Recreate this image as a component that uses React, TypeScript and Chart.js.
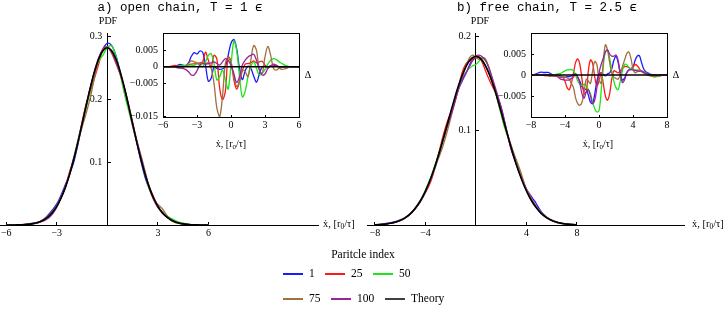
import React, { useEffect, useRef } from "react";
import { Chart, registerables } from "chart.js";

Chart.register(...registerables);

const SERIF = '"Liberation Serif", "Times New Roman", Times, serif';
const MONO = '"Liberation Mono", "Courier New", monospace';

// ---------------- Data ----------------
const particleLabels = ["1", "25", "50", "75", "100"];
const theoryLabel = "Theory";

// Panel a: open chain, T = 1
const xGridA = [
  -6, -5.75, -5.5, -5.25, -5, -4.75, -4.5, -4.25,
  -4, -3.75, -3.5, -3.25, -3, -2.75, -2.5, -2.25,
  -2, -1.75, -1.5, -1.25, -1, -0.75, -0.5, -0.25,
  0, 0.25, 0.5, 0.75, 1, 1.25, 1.5, 1.75,
  2, 2.25, 2.5, 2.75, 3, 3.25, 3.5, 3.75,
  4, 4.25, 4.5, 4.75, 5, 5.25, 5.5, 5.75,
  6,
];
const theoryA = [
  0.0000, 0.0001, 0.0001, 0.0003, 0.0005, 0.0010, 0.0018, 0.0031,
  0.0052, 0.0084, 0.0132, 0.0201, 0.0297, 0.0426, 0.0591, 0.0796,
  0.1038, 0.1312, 0.1607, 0.1909, 0.2197, 0.2451, 0.2650, 0.2777,
  0.2821, 0.2777, 0.2650, 0.2451, 0.2197, 0.1909, 0.1607, 0.1312,
  0.1038, 0.0796, 0.0591, 0.0426, 0.0297, 0.0201, 0.0132, 0.0084,
  0.0052, 0.0031, 0.0018, 0.0010, 0.0005, 0.0003, 0.0001, 0.0001,
  0.0000,
];
const deltaA1 = [
  0, 0, 0, 0, 0.0001, 0.0004, 0.0007, 0.0005,
  0.0004, 0.0012, 0.0032, 0.0043, 0.0039, 0.0048, 0.0044, 0.0005,
  -0.0044, -0.0035, 0.0000, -0.0005, -0.0008, -0.0006, 0.0000, 0.0035,
  0.0072, 0.0083, 0.0055, -0.0005, -0.0039, -0.0012, 0.0002, -0.0005,
  -0.0028, -0.0047, -0.0022, 0.0000, 0.0002, 0.0000, 0.0003, 0.0004,
  0.0002, 0, 0, 0, 0, 0, 0, 0,
  0,
];
const deltaA25 = [
  0, 0, 0, 0.0002, 0.0004, 0.0003, 0.0001, 0.0002,
  0.0003, 0.0006, 0.0008, 0.0009, 0.0010, 0.0012, 0.0015, 0.0045,
  0.0020, 0.0000, 0.0035, 0.0024, -0.0065, -0.0100, -0.0075, 0.0030,
  0.0017, -0.0039, -0.0068, -0.0045, -0.0012, 0.0008, 0.0010, 0.0012,
  0.0018, 0.0012, 0.0015, 0.0017, 0.0005, -0.0005, 0.0003, 0.0003,
  0.0002, 0, 0, 0, 0, 0, 0, 0,
  0,
];
const deltaA50 = [
  0, 0, 0, 0, 0, 0.0001, 0.0003, 0.0004,
  0.0004, 0.0005, 0.0005, 0.0004, 0.0010, 0.0005, 0.0000, 0.0015,
  0.0035, 0.0040, 0.0010, -0.0040, -0.0030, -0.0010, -0.0040, -0.0068,
  0.0005, 0.0078, 0.0050, -0.0030, -0.0092, -0.0075, -0.0030, 0.0000,
  0.0015, -0.0005, -0.0025, -0.0020, -0.0008, 0.0008, 0.0020, 0.0025,
  0.0022, 0.0015, 0.0010, 0.0005, 0.0002, 0, 0, 0,
  0,
];
const deltaA75 = [
  0, 0, 0, 0, 0, -0.0003, -0.0004, -0.0002,
  0.0003, 0.0010, 0.0018, 0.0015, 0.0012, 0.0008, 0.0015, 0.0010,
  0.0012, -0.0005, -0.0050, -0.0125, -0.0152, -0.0090, 0.0010, 0.0030,
  0.0010, -0.0030, -0.0060, -0.0045, -0.0010, -0.0015, -0.0030, 0.0020,
  0.0065, 0.0050, -0.0010, -0.0020, 0.0030, 0.0062, 0.0035, -0.0005,
  -0.0010, -0.0005, -0.0008, -0.0006, -0.0003, 0, 0, 0,
  0,
];
const deltaA100 = [
  0, 0, 0, 0, 0, -0.0002, -0.0003, -0.0005,
  -0.0008, -0.0015, -0.0025, -0.0025, -0.0012, 0.0005, 0.0010, 0.0008,
  0.0010, 0.0012, 0.0015, 0.0010, 0.0005, 0.0015, 0.0025, 0.0020,
  0.0005, -0.0020, -0.0048, -0.0030, 0.0005, 0.0020, 0.0030, 0.0035,
  0.0038, 0.0020, -0.0008, -0.0025, -0.0022, -0.0005, 0.0003, 0.0008,
  0.0005, 0, 0, 0, 0, 0, 0, 0,
  0,
];

// Panel b: free chain, T = 2.5
const xGridB = [
  -8, -7.75, -7.5, -7.25, -7, -6.75, -6.5, -6.25,
  -6, -5.75, -5.5, -5.25, -5, -4.75, -4.5, -4.25,
  -4, -3.75, -3.5, -3.25, -3, -2.75, -2.5, -2.25,
  -2, -1.75, -1.5, -1.25, -1, -0.75, -0.5, -0.25,
  0, 0.25, 0.5, 0.75, 1, 1.25, 1.5, 1.75,
  2, 2.25, 2.5, 2.75, 3, 3.25, 3.5, 3.75,
  4, 4.25, 4.5, 4.75, 5, 5.25, 5.5, 5.75,
  6, 6.25, 6.5, 6.75, 7, 7.25, 7.5, 7.75,
  8,
];
const theoryB = [
  0.0003, 0.0004, 0.0006, 0.0009, 0.0013, 0.0019, 0.0026, 0.0036,
  0.0049, 0.0065, 0.0087, 0.0113, 0.0146, 0.0187, 0.0235, 0.0293,
  0.0360, 0.0437, 0.0524, 0.0620, 0.0725, 0.0837, 0.0955, 0.1075,
  0.1196, 0.1313, 0.1425, 0.1526, 0.1614, 0.1686, 0.1740, 0.1773,
  0.1784, 0.1773, 0.1740, 0.1686, 0.1614, 0.1526, 0.1425, 0.1313,
  0.1196, 0.1075, 0.0955, 0.0837, 0.0725, 0.0620, 0.0524, 0.0437,
  0.0360, 0.0293, 0.0235, 0.0187, 0.0146, 0.0113, 0.0087, 0.0065,
  0.0049, 0.0036, 0.0026, 0.0019, 0.0013, 0.0009, 0.0006, 0.0004,
  0.0003,
];
const deltaB1 = [
  0, 0, 0.0002, 0.0004, 0.0006, 0.0007, 0.0006, 0.0006,
  0.0006, 0.0004, 0.0001, -0.0001, -0.0002, -0.0004, -0.0005, -0.0005,
  -0.0005, -0.0004, -0.0004, -0.0002, 0.0000, 0.0002, -0.0005, -0.0015,
  -0.0028, -0.0035, -0.0034, -0.0048, -0.0065, -0.0068, -0.0045, -0.0015,
  0.0003, 0.0005, 0.0002, -0.0002, 0.0003, 0.0005, 0.0015, 0.0035,
  0.0045, 0.0030, 0.0003, -0.0012, -0.0008, 0.0005, 0.0012, 0.0013,
  0.0018, 0.0035, 0.0045, 0.0046, 0.0030, 0.0015, 0.0008, 0.0005,
  0.0002, 0.0001, 0, -0.0001, -0.0001, 0, 0.0001, 0,
  0,
];
const deltaB25 = [
  0, 0, 0, 0, 0, 0, 0, -0.0001,
  -0.0001, -0.0002, -0.0002, -0.0002, -0.0001, 0.0000, -0.0002, -0.0005,
  -0.0015, -0.0030, -0.0035, -0.0020, 0.0005, 0.0030, 0.0038, 0.0025,
  -0.0010, -0.0045, -0.0040, 0.0010, 0.0036, 0.0028, -0.0005, -0.0025,
  -0.0015, 0.0005, -0.0020, -0.0050, -0.0060, -0.0045, -0.0010, 0.0010,
  0.0008, 0.0005, 0.0010, 0.0015, 0.0020, 0.0020, 0.0018, 0.0015,
  0.0020, 0.0025, 0.0022, 0.0015, 0.0008, 0.0005, 0.0003, 0.0001,
  0, -0.0001, -0.0002, -0.0003, -0.0003, -0.0002, 0, 0,
  0,
];
const deltaB50 = [
  0, 0, 0, 0, 0, 0, 0, 0,
  0, 0, 0, 0.0001, 0.0002, 0.0003, 0.0004, 0.0007,
  0.0010, 0.0012, 0.0012, 0.0013, 0.0010, 0.0000, -0.0015, -0.0022,
  -0.0025, -0.0022, -0.0025, -0.0035, -0.0045, -0.0065, -0.0080, -0.0088,
  -0.0085, -0.0040, 0.0020, 0.0055, 0.0058, 0.0040, 0.0010, -0.0015,
  -0.0030, -0.0035, -0.0015, 0.0010, 0.0025, 0.0025, 0.0018, 0.0015,
  0.0012, 0.0012, 0.0012, 0.0011, 0.0010, 0.0008, 0.0005, 0.0002,
  0, -0.0003, -0.0005, -0.0004, -0.0003, -0.0001, 0, 0,
  0,
];
const deltaB75 = [
  0, 0, 0, 0, 0, 0, -0.0001, -0.0002,
  -0.0002, -0.0003, -0.0003, -0.0002, -0.0002, -0.0003, -0.0003, -0.0004,
  -0.0005, -0.0007, -0.0010, -0.0020, -0.0030, -0.0055, -0.0068, -0.0072,
  -0.0065, -0.0040, -0.0010, -0.0015, -0.0020, 0.0010, 0.0032, 0.0025,
  -0.0010, -0.0020, 0.0030, 0.0072, 0.0060, 0.0030, 0.0005, -0.0005,
  -0.0008, -0.0010, 0.0000, 0.0020, 0.0035, 0.0050, 0.0055, 0.0040,
  0.0015, 0.0005, 0.0008, 0.0010, 0.0010, 0.0006, 0.0003, 0,
  -0.0002, -0.0003, -0.0003, -0.0002, -0.0002, -0.0001, 0, 0,
  0,
];
const deltaB100 = [
  0, 0, 0, 0, 0, 0, 0, 0,
  0, 0, -0.0001, -0.0002, -0.0003, -0.0006, -0.0010, -0.0011,
  -0.0012, -0.0012, -0.0012, -0.0008, -0.0005, 0.0003, -0.0005, -0.0020,
  -0.0045, -0.0055, -0.0040, -0.0035, -0.0050, -0.0068, -0.0060, -0.0030,
  0.0005, 0.0025, 0.0040, 0.0055, 0.0060, 0.0050, 0.0045, 0.0045,
  0.0048, 0.0035, 0.0005, -0.0018, -0.0012, 0.0005, 0.0012, 0.0013,
  0.0012, 0.0011, 0.0010, 0.0009, 0.0009, 0.0007, 0.0004, 0.0002,
  0, 0, 0, 0, 0, 0, 0, 0,
  0,
];

// Tick values
const xTicksMainA = [-6, -3, 3, 6];
const yTicksMainA = [0.1, 0.2, 0.3];
const xTicksInsetA = [-6, -3, 0, 3, 6];
const yTicksInsetA = [0.005, 0, -0.005, -0.015];
const xTicksMainB = [-8, -4, 4, 8];
const yTicksMainB = [0.1, 0.2];
const xTicksInsetB = [-8, -4, 0, 4, 8];
const yTicksInsetB = [0.005, 0, -0.005];

// ---------------- Styles ----------------
const seriesColors = ["#1a1aff", "#ff1a1a", "#1ae61a", "#a0703f", "#992699"];
const theoryColor = "#000000";
const tickFont = { family: SERIF, size: 10 };

const fmt = (v: number) => {
  if (v === 0) return "0";
  const s = String(Math.abs(v));
  return v < 0 ? "\u2212" + s : s;
};

function axis(min: number, max: number, position: any, ticks: number[], isY: boolean, tickLen: number, pad: number) {
  return {
    type: "linear",
    min,
    max,
    position,
    afterBuildTicks: (s: any) => {
      s.ticks = ticks.map((v) => ({ value: v }));
    },
    ticks: {
      autoSkip: false,
      maxRotation: 0,
      minRotation: 0,
      color: "#000",
      font: tickFont,
      padding: pad,
      callback: (v: any) => (isY ? fmt(Number(v)) + "  " : fmt(Number(v))),
    },
    grid: { display: true, drawOnChartArea: false, drawTicks: true, tickLength: tickLen, color: "#000", lineWidth: 1 },
    border: { display: true, color: "#000", width: 1 },
  };
}

function frameAxis(min: number, max: number, position: any) {
  return {
    type: "linear",
    min,
    max,
    position,
    ticks: { display: false },
    grid: { display: true, drawOnChartArea: false, drawTicks: false },
    border: { display: true, color: "#000", width: 1 },
  };
}

const baseOptions = (padding: any) => ({
  animation: false,
  responsive: false,
  events: [],
  layout: { padding },
  elements: { point: { radius: 0 }, line: { tension: 0.35, fill: false } },
  plugins: { legend: { display: false }, tooltip: { enabled: false }, title: { display: false } },
});

function mainConfig(xs: number[], theory: number[], deltas: number[][], p: any) {
  const datasets: any[] = [
    {
      label: theoryLabel,
      data: xs.map((x, i) => ({ x, y: theory[i] })),
      borderColor: theoryColor,
      borderWidth: 1.6,
      order: 0,
      xAxisID: "x",
      yAxisID: "y",
    },
    ...deltas.map((d, k) => ({
      label: particleLabels[k],
      data: xs.map((x, i) => ({ x, y: theory[i] + d[i] })),
      borderColor: seriesColors[k],
      borderWidth: 1.3,
      order: 5 - k,
      xAxisID: "x",
      yAxisID: "y",
    })),
  ];
  return {
    type: "line",
    data: { datasets },
    options: {
      ...baseOptions(p.padding),
      scales: {
        x: axis(p.xMin, p.xMax, { y: 0 }, p.xTicks, false, -4, 6),
        y: axis(0, p.yMax, { x: 0 }, p.yTicks, true, -4, 0),
      },
    },
  };
}

function insetConfig(xs: number[], deltas: number[][], p: any) {
  const datasets: any[] = [
    {
      label: theoryLabel,
      data: xs.map((x) => ({ x, y: 0 })),
      borderColor: theoryColor,
      borderWidth: 1.5,
      order: 0,
      xAxisID: "x",
      yAxisID: "y",
    },
    ...deltas.map((d, k) => ({
      label: particleLabels[k],
      data: xs.map((x, i) => ({ x, y: d[i] })),
      borderColor: seriesColors[k],
      borderWidth: 1.3,
      order: 5 - k,
      xAxisID: "x",
      yAxisID: "y",
    })),
  ];
  return {
    type: "line",
    data: { datasets },
    options: {
      ...baseOptions(p.padding),
      scales: {
        x: axis(p.xMin, p.xMax, { y: p.yMin }, p.xTicks, false, -3, 5),
        y: axis(p.yMin, p.yMax, { x: p.xMin }, p.yTicks, true, -3, 0),
        x2: frameAxis(p.xMin, p.xMax, { y: p.yMax }),
        y2: frameAxis(p.yMin, p.yMax, { x: p.xMax }),
      },
    },
  };
}

function ChartCanvas(props: { left: number; top: number; width: number; height: number; config: any }) {
  const ref = useRef<HTMLCanvasElement>(null);
  useEffect(() => {
    const chart = new Chart(ref.current as HTMLCanvasElement, props.config);
    return () => chart.destroy();
  }, []);
  return (
    <canvas
      ref={ref}
      width={props.width}
      height={props.height}
      style={{ position: "absolute", left: props.left, top: props.top, width: props.width, height: props.height }}
    />
  );
}

function Txt(props: { x: number; y: number; anchor?: "center" | "left"; style?: any; children: any }) {
  const t = props.anchor === "left" ? "translate(0,-50%)" : "translate(-50%,-50%)";
  return (
    <div
      style={{
        position: "absolute",
        left: props.x,
        top: props.y,
        transform: t,
        whiteSpace: "pre",
        lineHeight: 1,
        color: "#000",
        fontFamily: SERIF,
        fontSize: 10,
        ...props.style,
      }}
    >
      {props.children}
    </div>
  );
}

const XLabel = () => (
  <span>
    ẋ, [r<sub style={{ fontSize: "70%", verticalAlign: "-0.25em" }}>0</sub>/τ]
  </span>
);

const legendItems = [
  { k: 0, x: 283, y: 274 },
  { k: 1, x: 325, y: 274 },
  { k: 2, x: 373, y: 274 },
  { k: 3, x: 283, y: 299 },
  { k: 4, x: 331, y: 299 },
  { k: 5, x: 385, y: 299 },
];

export default function App() {
  const mainA = mainConfig(xGridA, theoryA, [deltaA1, deltaA25, deltaA50, deltaA75, deltaA100], {
    padding: { left: 20, right: 32, top: 33, bottom: 88 },
    xMin: -6.37,
    xMax: 12.5,
    yMax: 0.3057,
    xTicks: xTicksMainA,
    yTicks: yTicksMainA,
  });
  const insetA = insetConfig(xGridA, [deltaA1, deltaA25, deltaA50, deltaA75, deltaA100], {
    padding: { left: 63, right: 21, top: 33, bottom: 53 },
    xMin: -6,
    xMax: 6,
    yMin: -0.0153,
    yMax: 0.0103,
    xTicks: xTicksInsetA,
    yTicks: yTicksInsetA,
  });
  const mainB = mainConfig(xGridB, theoryB, [deltaB1, deltaB25, deltaB50, deltaB75, deltaB100], {
    padding: { left: 23, right: 44, top: 33, bottom: 88 },
    xMin: -8.63,
    xMax: 16.48,
    yMax: 0.2032,
    xTicks: xTicksMainB,
    yTicks: yTicksMainB,
  });
  const insetB = insetConfig(xGridB, [deltaB1, deltaB25, deltaB50, deltaB75, deltaB100], {
    padding: { left: 61, right: 23, top: 33, bottom: 53 },
    xMin: -8,
    xMax: 8,
    yMin: -0.01,
    yMax: 0.01,
    xTicks: xTicksInsetB,
    yTicks: yTicksInsetB,
  });

  const labels = [...particleLabels, theoryLabel];
  const colors = [...seriesColors, "#404040"];

  return (
    <div style={{ position: "absolute", left: 0, top: 0, width: 728, height: 313, overflow: "hidden", background: "#fff" }}>
      <ChartCanvas left={-20} top={0} width={370} height={313} config={mainA} />
      <ChartCanvas left={344} top={0} width={384} height={313} config={mainB} />
      <ChartCanvas left={100} top={0} width={220} height={170} config={insetA} />
      <ChartCanvas left={470} top={0} width={220} height={170} config={insetB} />

      <Txt x={180} y={8} style={{ fontFamily: MONO, fontSize: 12.5 }}>a) open chain, T = 1 ϵ</Txt>
      <Txt x={547} y={8} style={{ fontFamily: MONO, fontSize: 12.5 }}>b) free chain, T = 2.5 ϵ</Txt>

      <Txt x={108} y={21}>PDF</Txt>
      <Txt x={480} y={21}>PDF</Txt>

      <Txt x={323} y={225} anchor="left" style={{ fontSize: 10.5 }}><XLabel /></Txt>
      <Txt x={692} y={225} anchor="left" style={{ fontSize: 10.5 }}><XLabel /></Txt>

      <Txt x={231} y={145}><XLabel /></Txt>
      <Txt x={598} y={145}><XLabel /></Txt>

      <Txt x={308} y={75}>Δ</Txt>
      <Txt x={676} y={75}>Δ</Txt>

      <Txt x={363} y={255} style={{ fontSize: 11.5 }}>Paritcle index</Txt>
      {legendItems.map((it) => (
        <React.Fragment key={it.k}>
          <div
            style={{
              position: "absolute",
              left: it.x,
              top: it.y - 1,
              width: 20,
              height: 2,
              backgroundColor: colors[it.k],
            }}
          />
          <Txt x={it.x + 26} y={it.y} anchor="left" style={{ fontSize: 11.5 }}>
            {labels[it.k]}
          </Txt>
        </React.Fragment>
      ))}
    </div>
  );
}
